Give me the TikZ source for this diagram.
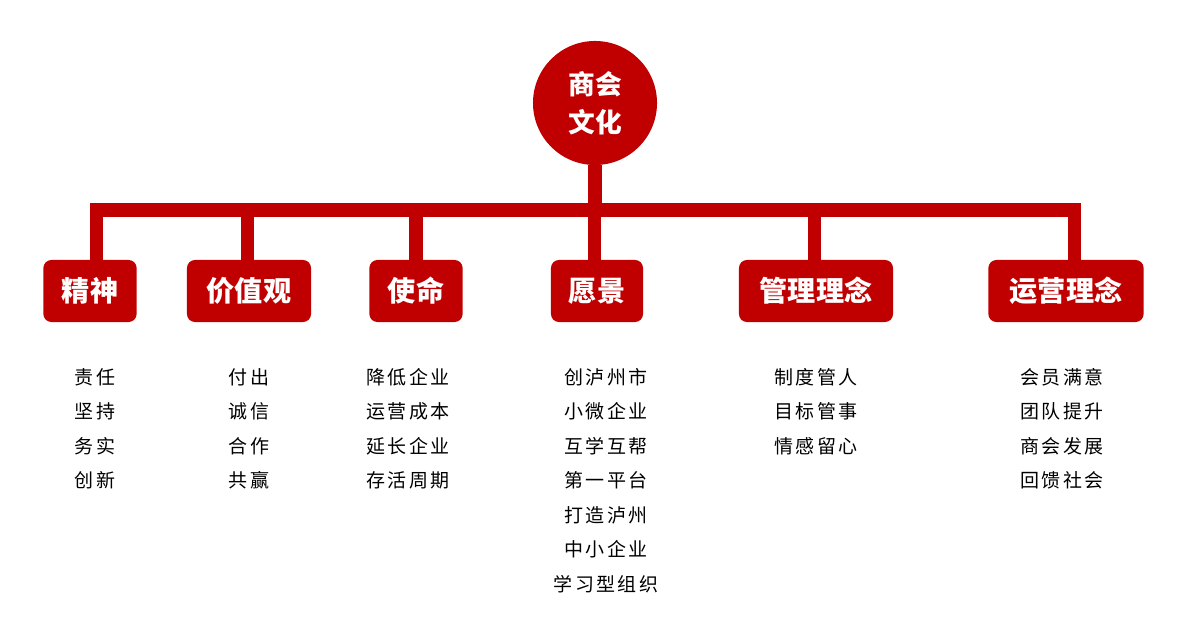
\documentclass[tikz,border=0pt]{standalone}
\usepackage{fontspec}
\setmainfont{Noto Sans CJK SC}
\definecolor{hongse}{HTML}{C00000}
\begin{document}
\begin{tikzpicture}[x=0.025cm, y=-0.025cm,
	genjie/.style={circle, fill=hongse, text=white, minimum size=3.1cm, inner sep=0pt, align=center, font=\fontsize{19}{27}\selectfont\bfseries},
	fenzhi/.style={rounded corners=0.2cm, fill=hongse, text=white, minimum height=1.55cm, inner sep=0pt, font=\fontsize{20}{24}\selectfont\bfseries},
	neirong/.style={anchor=north, align=center, inner sep=0pt, font=\fontsize{13.5}{24.5}\selectfont\addfontfeature{LetterSpace=12}},
	lianxian/.style={hongse, line width=0.33cm}]
	\useasboundingbox (0,0) rectangle (1185,628);
	% Gốc
	\node[genjie] (wenhua) at (595,103) {商会\\文化};
	% Các nhánh
	\node[fenzhi, minimum width=2.33cm] (jingshen) at (90,291) {精神};
	\node[fenzhi, minimum width=3.1cm] (jiazhi) at (249,291) {价值观};
	\node[fenzhi, minimum width=2.33cm] (shiming) at (416,291) {使命};
	\node[fenzhi, minimum width=2.3cm] (yuanjing) at (597,291) {愿景};
	\node[fenzhi, minimum width=3.85cm] (guanli) at (816,291) {管理理念};
	\node[fenzhi, minimum width=3.88cm] (yunying) at (1066,291) {运营理念};
	\coordinate (heng) at (595,210);
	% Đường nối
	\draw[lianxian] (wenhua.south) -- (heng);
	\draw[lianxian, line cap=rect] ([xshift=4.5]jingshen.north |- heng) -- ([xshift=6]yunying.north |- heng);
	\foreach \n/\d in {jingshen/4.5, jiazhi/-1, shiming/0, yuanjing/-2, guanli/-1, yunying/6}
		\draw[lianxian] ([xshift=\d]\n.north |- heng) -- ([xshift=\d]\n.north);
	% Nội dung
	\node[neirong] (t1) at (95,368) {责任\\坚持\\务实\\创新};
	\node[neirong] (t2) at (249,368) {付出\\诚信\\合作\\共赢};
	\node[neirong] (t3) at (408,368) {降低企业\\运营成本\\延长企业\\存活周期};
	\node[neirong] (t4) at (606,368) {创泸州市\\小微企业\\互学互帮\\第一平台\\打造泸州\\中小企业\\学习型组织};
	\node[neirong] (t5) at (816,368) {制度管人\\目标管事\\情感留心};
	\node[neirong] (t6) at (1062,368) {会员满意\\团队提升\\商会发展\\回馈社会};
\end{tikzpicture}
\end{document}
